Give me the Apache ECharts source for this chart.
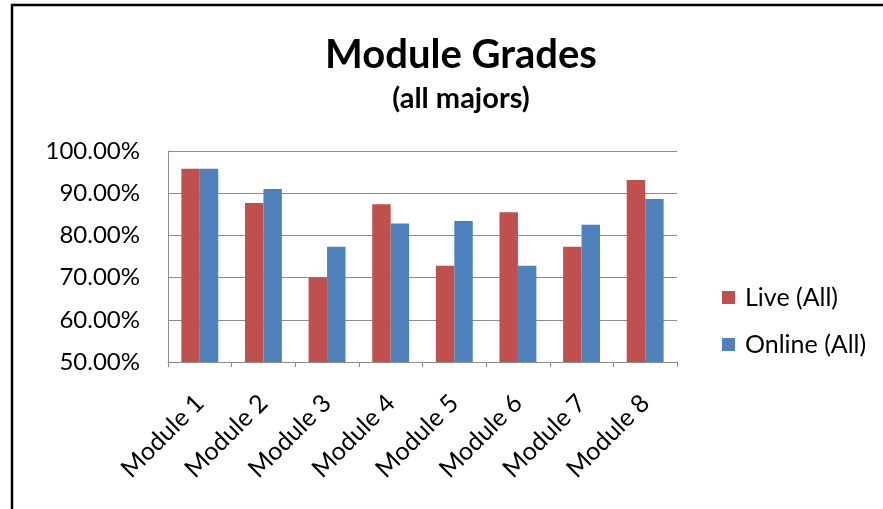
<!DOCTYPE html>
<html>
<head>
<meta charset="utf-8">
<script src="https://cdn.jsdelivr.net/npm/echarts@6/dist/echarts.min.js"></script>
<style>
html,body{margin:0;padding:0;background:#fff;}
#chart{width:883px;height:509px;}
</style>
</head>
<body>
<div id="chart"></div>
<script>
var categories = ['Module 1','Module 2','Module 3','Module 4','Module 5','Module 6','Module 7','Module 8'];
var liveAll = [95.8, 87.7, 70.0, 87.4, 72.8, 85.5, 77.3, 93.1];
var onlineAll = [95.8, 91.0, 77.3, 82.8, 83.4, 72.8, 82.5, 88.6];
var seriesNames = ['Live (All)', 'Online (All)'];
var titleText = 'Module Grades';
var subtitleText = '(all majors)';

var chart = echarts.init(document.getElementById('chart'), null, {renderer:'canvas'});
var option = {
  backgroundColor: '#ffffff',
  animation: false,
  title: [
    {
      text: titleText,
      left: 456,
      textAlign: 'center',
      top: 30,
      textStyle: {fontFamily: 'Lato', fontWeight: 'bold', fontSize: 40, color: '#000'}
    },
    {
      text: subtitleText,
      left: 456,
      textAlign: 'center',
      top: 79,
      textStyle: {fontFamily: 'Lato', fontWeight: 'bold', fontSize: 29, color: '#000'}
    }
  ],
  legend: {
    orient: 'vertical',
    left: 717,
    top: 280,
    itemWidth: 13,
    itemHeight: 13,
    itemGap: 22,
    icon: 'rect',
    data: seriesNames,
    textStyle: {fontFamily: 'Lato', fontSize: 25, color: '#000', padding: [0, 0, 0, 5]}
  },
  grid: {left: 168, right: 206, top: 151, bottom: 147, containLabel: false},
  xAxis: {
    type: 'category',
    data: categories,
    axisLine: {show: true, lineStyle: {color: '#8c8c8c', width: 1}},
    axisTick: {show: true, alignWithLabel: false, length: 5, lineStyle: {color: '#8c8c8c'}},
    axisLabel: {rotate: 45, margin: 37, fontFamily: 'Lato', fontSize: 25, color: '#000', interval: 0}
  },
  yAxis: {
    type: 'value',
    min: 50, max: 100, interval: 10,
    axisLine: {show: true, lineStyle: {color: '#8c8c8c', width: 1}},
    axisTick: {show: false},
    splitLine: {show: true, lineStyle: {color: '#8c8c8c', width: 1}},
    axisLabel: {margin: 28, fontFamily: 'Lato', fontSize: 24, color: '#000',
      formatter: function(v){ return v.toFixed(2) + '%'; }}
  },
  series: [
    {name: seriesNames[0], type: 'bar', data: liveAll, barGap: '0%', barCategoryGap: '42%',
     itemStyle: {color: '#C0504D'}},
    {name: seriesNames[1], type: 'bar', data: onlineAll, barGap: '0%', barCategoryGap: '42%',
     itemStyle: {color: '#4F81BD'}}
  ],
  graphic: [
    {type: 'line', shape: {x1: 11, y1: 5, x2: 883, y2: 5}, style: {stroke: '#000', lineWidth: 2.5}, silent: true},
    {type: 'line', shape: {x1: 12, y1: 4, x2: 12, y2: 509}, style: {stroke: '#000', lineWidth: 2.5}, silent: true}
  ]
};
chart.setOption(option);
</script>
</body>
</html>
